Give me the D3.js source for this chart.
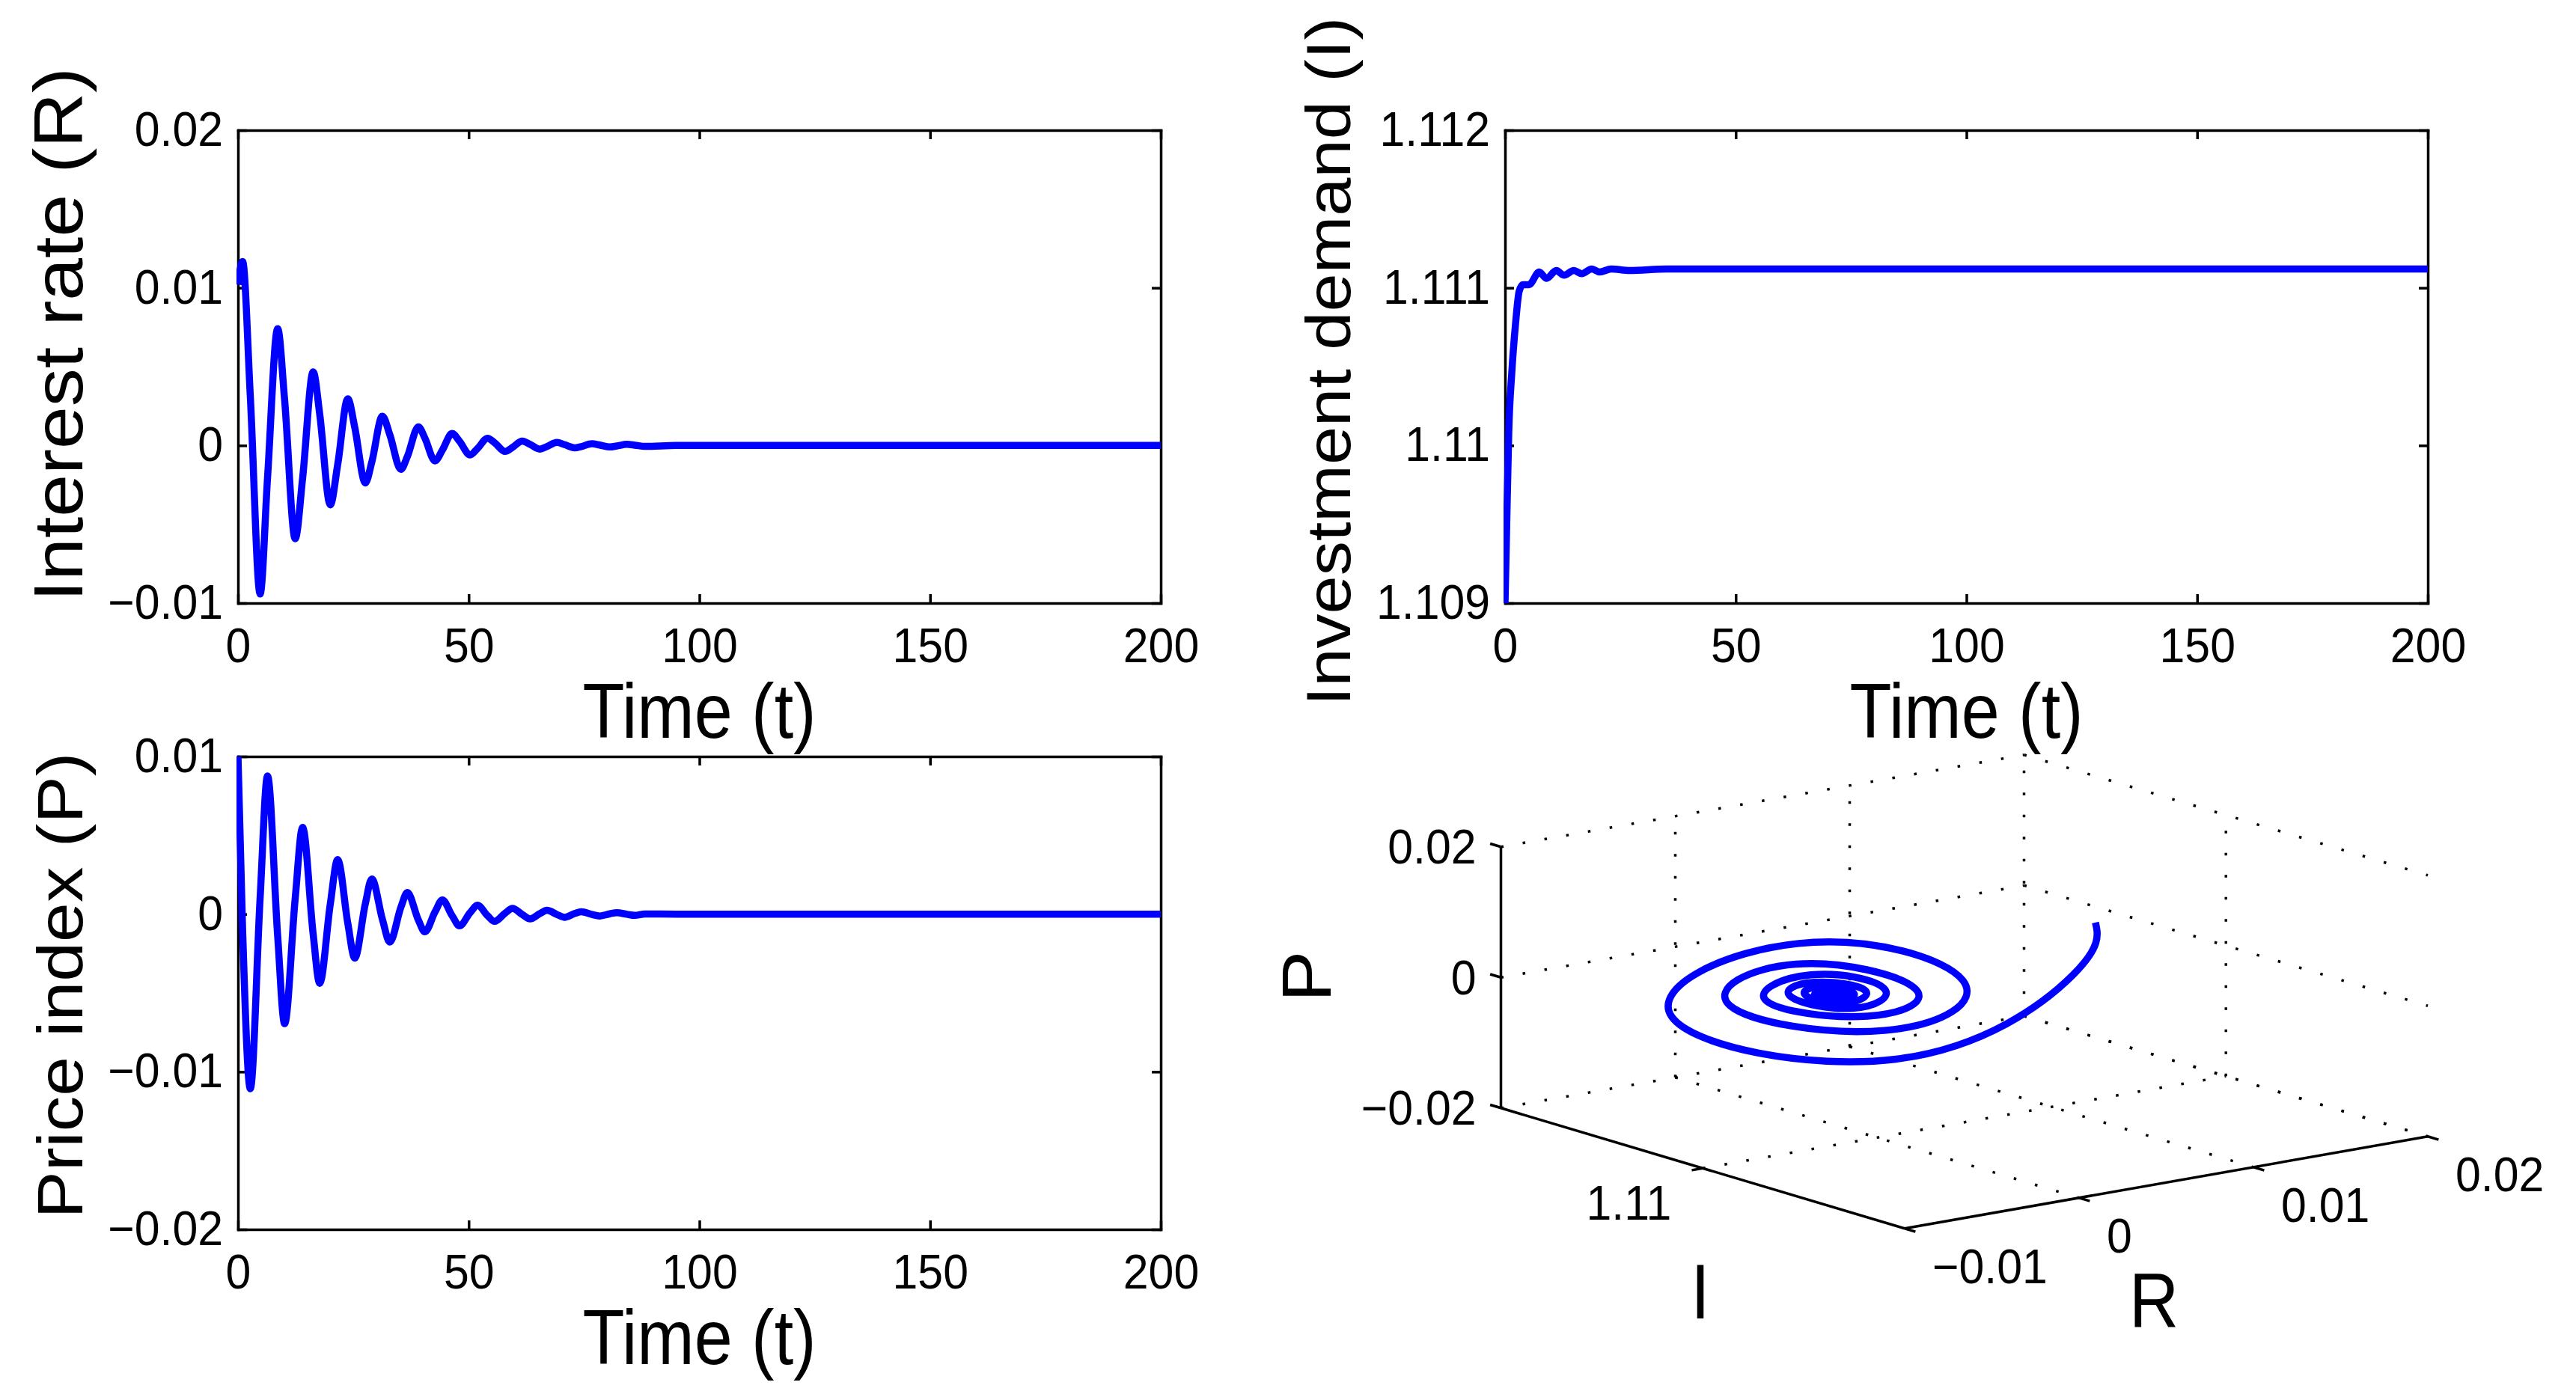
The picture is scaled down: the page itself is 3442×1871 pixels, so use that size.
<!DOCTYPE html>
<html>
<head>
<meta charset="utf-8">
<script src="https://cdn.jsdelivr.net/npm/d3@7"></script>
<style>
  body { margin: 0; background: #fff; }
  text { font-family: "Liberation Sans", Arial, Helvetica, sans-serif; fill: #000; }
</style>
</head>
<body>
<div id="fig"></div>
<script>
// shared time grid (extrema of R and P)
var tGrid = [0, 1.0, 2.67, 4.8, 6.4, 8.6, 10.1, 12.4, 14.0, 16.3, 17.7, 20.0, 21.6, 23.8, 25.3, 27.6,
  29.0, 31.3, 32.9, 35.3, 36.7, 39.1, 40.5, 42.7, 44.3, 46.4, 48.0, 50.3, 51.9, 54.1, 55.6, 57.9,
  59.5, 61.6, 63.3, 65.4, 67.0, 69.1, 70.8, 73.0, 74.4, 76.7, 78.4, 80.6, 82.1, 84.3, 86.0, 88.2,
  95, 120, 160, 200];
// interest rate R(t)
var rateR = [0.0102, 0.01167, 0.00312, -0.00942, -0.00207, 0.00741, 0.00291, -0.00592, -0.0021, 0.00467,
  0.00202, -0.00377, -0.00123, 0.00296, 0.00116, -0.00238, -0.00105, 0.00186, 0.00069, -0.00152,
  -0.00071, 0.00118, 0.00047, -0.00098, -0.00029, 0.00076, 0.00027, -0.0006, -0.0002, 0.00046,
  0.00018, -0.00038, -0.00012, 0.00028, 0.00007, -0.00023, -0.00006, 0.00019, 0.00005, -0.00015,
  -0.00007, 0.00011, 0.00003, -0.00009, -0.00003, 0.00007, 0.00002, -0.00006, 0, 0, 0, 0];
// price index P(t)
var priceP = [0.0100, -0.0010, -0.01107, 0.00105, 0.00877, -0.00139, -0.00695, 0.0010, 0.0055, -0.00129,
  -0.00439, 0.00063, 0.00346, -0.00058, -0.00279, 0.00066, 0.00223, -0.00033, -0.00177, 0.00043,
  0.00137, -0.00038, -0.00112, 0.00014, 0.0009, -0.00009, -0.00074, 0.00009, 0.00056, -0.0001,
  -0.00046, 0.00006, 0.00036, -0.00002, -0.0003, 0.00003, 0.00024, -0.00002, -0.0002, 0.00004,
  0.00015, -0.00002, -0.00012, 0.00002, 0.00009, -0.00001, -0.00008, 0.00001, 0, 0, 0, 0];
// investment demand on the same grid (used for the 3d trajectory)
var investGrid = [1.109, 1.1102, 1.11088, 1.11102, 1.11105, 1.11108, 1.11108, 1.11109, 1.11111, 1.1111,
  1.11111, 1.11111, 1.11111, 1.11111, 1.11111, 1.11111, 1.11111, 1.11111, 1.11111, 1.11111,
  1.11111, 1.11111, 1.11111, 1.11111, 1.11111, 1.11111, 1.11111, 1.11111, 1.11111, 1.11111,
  1.11111, 1.11111, 1.11111, 1.11111, 1.11111, 1.11111, 1.11111, 1.11111, 1.11111, 1.11111,
  1.11111, 1.11111, 1.11111, 1.11111, 1.11111, 1.11111, 1.11111, 1.11111, 1.11111, 1.11111,
  1.11111, 1.11111];

// investment demand I(t), its own time points
var tInv = [0, 0.37, 0.81, 1.46, 2.27, 3.08, 3.9, 5.2, 7.4, 9.0, 11.1, 12.8, 14.9, 16.6, 18.8, 20.5, 23, 27, 35, 200];
var investI = [1.109, 1.10951, 1.11009, 1.11046, 1.11077, 1.11098, 1.11102, 1.11102, 1.1111, 1.11106,
  1.11111, 1.11108, 1.11111, 1.11109, 1.11112, 1.1111, 1.11112, 1.11111, 1.11112, 1.11112];

// ticks
var timeTicks = [0, 50, 100, 150, 200];
var rTicks = [-0.01, 0, 0.01, 0.02];
var rTickLabels = ["\u22120.01", "0", "0.01", "0.02"];
var iTicks = [1.109, 1.11, 1.111, 1.112];
var iTickLabels = ["1.109", "1.11", "1.111", "1.112"];
var pTicks = [-0.02, -0.01, 0, 0.01];
var pTickLabels = ["\u22120.02", "\u22120.01", "0", "0.01"];
// 3d view ticks
var p3Ticks = [-0.02, 0, 0.02];
var p3TickLabels = ["\u22120.02", "0", "0.02"];
var i3Ticks = [1.11];
var i3TickLabels = ["1.11"];
var r3Ticks = [-0.01, 0, 0.01, 0.02];
var r3TickLabels = ["\u22120.01", "0", "0.01", "0.02"];

var W = 3442, H = 1871;
var tickFont = 64, tickSx = 0.95;
var labelFont = 103, labelSx = 0.89;
var blue = "#0000ff";

var svg = d3.select("#fig").append("svg")
    .attr("width", W).attr("height", H);
svg.append("rect").attr("width", W).attr("height", H).attr("fill", "#fff");

// text with a horizontal squeeze, like the exported figure
function label(g, x, y, str, size, anchor, rot, sx) {
  var tr = "translate(" + x + "," + y + ")" + (rot ? " rotate(-90) scale(1," + sx + ")" : " scale(" + sx + ",1)");
  return g.append("text").attr("transform", tr)
    .attr("text-anchor", anchor).attr("font-size", size).text(str);
}

var pw = 1233, ph = 632;

function panel(cfg) {
  var x = d3.scaleLinear().domain([0, 200]).range([cfg.left, cfg.left + pw]);
  var y = d3.scaleLinear().domain(cfg.yDomain).range([cfg.top + ph, cfg.top]);
  var g = svg.append("g");

  g.append("g").attr("transform", "translate(0," + (cfg.top + ph) + ")")
    .call(d3.axisBottom(x).tickValues(timeTicks).tickFormat(d3.format("d"))
      .tickSize(-12).tickSizeOuter(0).tickPadding(34));
  g.append("g").attr("transform", "translate(0," + cfg.top + ")")
    .call(d3.axisTop(x).tickValues(timeTicks).tickFormat("").tickSize(-12).tickSizeOuter(0));
  g.append("g").attr("transform", "translate(" + cfg.left + ",0)")
    .call(d3.axisLeft(y).tickValues(cfg.yTicks).tickFormat(function(d, i) { return cfg.yLabels[i]; })
      .tickSize(-12).tickSizeOuter(0).tickPadding(21));
  g.append("g").attr("transform", "translate(" + (cfg.left + pw) + ",0)")
    .call(d3.axisRight(y).tickValues(cfg.yTicks).tickFormat("").tickSize(-12).tickSizeOuter(0));

  g.selectAll(".domain").attr("stroke", "#000").attr("stroke-width", 3.5).attr("stroke-linecap", "square");
  g.selectAll(".tick line").attr("stroke", "#000").attr("stroke-width", 3.5);
  g.selectAll("g").attr("font-family", null).attr("font-size", tickFont);
  g.selectAll(".tick text").attr("transform", "scale(" + tickSx + ",1)");

  var clipId = "clip" + cfg.name;
  g.append("clipPath").attr("id", clipId)
    .append("rect").attr("x", cfg.left - 2).attr("y", cfg.top - 2)
    .attr("width", pw + 4).attr("height", ph + 4);

  var line = d3.line()
    .x(function(d) { return x(d[0]); })
    .y(function(d) { return y(d[1]); })
    .curve(d3.curveMonotoneX);
  g.append("path")
    .datum(d3.zip(cfg.t, cfg.v))
    .attr("clip-path", "url(#" + clipId + ")")
    .attr("d", line)
    .attr("fill", "none")
    .attr("stroke", blue)
    .attr("stroke-width", 9.5)
    .attr("stroke-linejoin", "round");

  label(g, cfg.left + pw / 2, cfg.top + ph + 180, "Time (t)", labelFont, "middle", false, labelSx);
  label(g, cfg.ylabX, cfg.ylabY, cfg.ylabel, cfg.ylabSize, "middle", true, 0.9);
}

panel({name: "R", left: 318, top: 174, yDomain: [-0.01, 0.02], yTicks: rTicks, yLabels: rTickLabels,
  t: tGrid, v: rateR, ylabel: "Interest rate (R)", ylabX: 110, ylabY: 447, ylabSize: 102});
panel({name: "I", left: 2011, top: 174, yDomain: [1.109, 1.112], yTicks: iTicks, yLabels: iTickLabels,
  t: tInv, v: investI, ylabel: "Investment demand (I)", ylabX: 1804, ylabY: 483, ylabSize: 92});
panel({name: "P", left: 318, top: 1011, yDomain: [-0.02, 0.01], yTicks: pTicks, yLabels: pTickLabels,
  t: tGrid, v: priceP, ylabel: "Price index (P)", ylabX: 110, ylabY: 1317, ylabSize: 95});

// ---- 3d phase plot (R, I, P) ----
var origin = [2005.5, 1480.8];     // corner at I max, R min, P min
var vecI = [539.5, 161];           // screen run of the I axis (from 1.115 to 1.105)
var vecR = [699, -123];            // screen run of the R axis
var boxH = 349;                    // screen height of the P axis

var iS = d3.scaleLinear().domain([1.115, 1.105]).range([0, 1]);
var rS = d3.scaleLinear().domain([-0.01, 0.02]).range([0, 1]);
var pS = d3.scaleLinear().domain([-0.02, 0.02]).range([0, 1]);

function proj(i, r, p) {
  var a = iS(i), b = rS(r), c = pS(p);
  return [origin[0] + a * vecI[0] + b * vecR[0],
          origin[1] + a * vecI[1] + b * vecR[1] - c * boxH];
}

var g3 = svg.append("g");
var iMax = iS.domain()[0], iMin = iS.domain()[1];
var rMin = rS.domain()[0], rMax = rS.domain()[1];
var pMin = pS.domain()[0], pMax = pS.domain()[1];

function seg(a, b, dotted) {
  g3.append("line")
    .attr("x1", a[0]).attr("y1", a[1]).attr("x2", b[0]).attr("y2", b[1])
    .attr("stroke", "#000")
    .attr("stroke-width", 3.5)
    .attr("stroke-dasharray", dotted ? "3.5,26" : null);
}

// grid on the floor and the two back walls
r3Ticks.forEach(function(r) {
  if (r === rMin) return;
  seg(proj(iMax, r, pMin), proj(iMin, r, pMin), true);
  seg(proj(iMax, r, pMin), proj(iMax, r, pMax), true);
});
i3Ticks.forEach(function(i) {
  seg(proj(i, rMin, pMin), proj(i, rMax, pMin), true);
  seg(proj(i, rMax, pMin), proj(i, rMax, pMax), true);
});
p3Ticks.forEach(function(p) {
  seg(proj(iMax, rMin, p), proj(iMax, rMax, p), true);
  seg(proj(iMax, rMax, p), proj(iMin, rMax, p), true);
});

// solid axes
seg(proj(iMax, rMin, pMin), proj(iMax, rMin, pMax), false);
seg(proj(iMax, rMin, pMin), proj(iMin, rMin, pMin), false);
seg(proj(iMin, rMin, pMin), proj(iMin, rMax, pMin), false);

// tick marks and labels
var tl = 15;
p3Ticks.forEach(function(p, k) {
  var a = proj(iMax, rMin, p);
  seg(a, [a[0] - tl * 0.958, a[1] - tl * 0.286], false);
  label(g3, a[0] - 33, a[1] + 0.35 * tickFont, p3TickLabels[k], tickFont, "end", false, tickSx);
});
i3Ticks.forEach(function(i, k) {
  var a = proj(i, rMin, pMin);
  seg(a, [a[0] - tl * 0.985, a[1] + tl * 0.173], false);
  label(g3, a[0] - 42, a[1] + 46 + 0.35 * tickFont, i3TickLabels[k], tickFont, "end", false, tickSx);
});
r3Ticks.forEach(function(r, k) {
  var a = proj(iMin, r, pMin);
  seg(a, [a[0] + tl * 0.958, a[1] + tl * 0.286], false);
  label(g3, a[0] + 37, a[1] + 51 + 0.35 * tickFont, r3TickLabels[k], tickFont, "start", false, tickSx);
});

// trajectory
var traj = d3.range(tGrid.length).map(function(k) {
  return proj(investGrid[k], rateR[k], priceP[k]);
});
g3.append("path")
  .attr("d", d3.line().curve(d3.curveNatural)(traj))
  .attr("fill", "none")
  .attr("stroke", blue)
  .attr("stroke-width", 9.5)
  .attr("stroke-linejoin", "round");

// axis labels
label(g3, 2272, 1762, "I", labelFont, "middle", false, labelSx);
label(g3, 2878, 1774, "R", labelFont, "middle", false, labelSx);
label(g3, 1778, 1305, "P", labelFont, "middle", true, 0.9);
</script>
</body>
</html>
